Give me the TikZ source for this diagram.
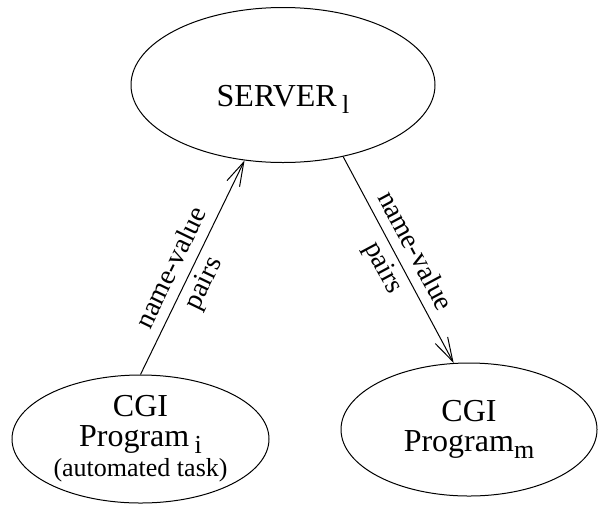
\documentclass[tikz,border=0pt]{standalone}
\usepackage{fontspec}
\setmainfont{Liberation Serif}
\usetikzlibrary{arrows.meta,shapes.geometric,positioning}
\newcommand{\lowidx}[1]{\raisebox{-3.5pt}{\fontsize{13}{13}\selectfont #1}}

\begin{document}
\begin{tikzpicture}[x=0.5pt,y=-0.5pt,->,>={Straight Barb[length=12pt,width=7pt]},
  line width=0.5pt,node distance=177pt,
  main node/.style={ellipse,draw,inner sep=0pt,align=center,font=\fontsize{16}{15}\selectfont}]

  \useasboundingbox (0,0) rectangle (598,504);

  \node[main node,minimum width=152pt,minimum height=77.5pt,text height=24pt,text depth=3pt] (server) at (283,85) {SERVER\,\lowidx{l}};
  \node[main node,minimum width=128.5pt,minimum height=64pt] (prog i) [below of=server,xshift=-71.25pt]
    {CGI\\Program\,\lowidx{i}\\{\fontsize{13}{14}\selectfont (automated task)}};
  \node[main node,minimum width=128pt,minimum height=66.5pt] (prog m) [below of=server,xshift=93pt,yshift=4.75pt]
    {CGI\\Program\lowidx{m}};

  \path[every node/.style={font=\fontsize{14}{17.5}\selectfont,align=center,sloped}]
      (prog i.north) edge node[pos=0.46] {name-value\\pairs} (server.243)
      (server.310) edge node {name-value\\pairs} (prog m.103);
\end{tikzpicture}
\end{document}
